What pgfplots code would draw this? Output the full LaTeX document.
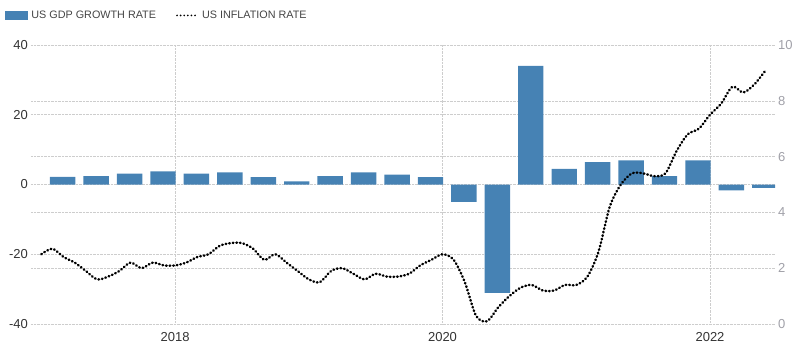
\documentclass[border=0pt]{standalone}
\usepackage{pgfplots}
\pgfplotsset{compat=1.18}
\usepackage{fontspec}
\setmainfont{Liberation Sans}
\definecolor{barblue}{HTML}{4682B4}
\definecolor{gridgray}{HTML}{CDCDCD}
\definecolor{lefttick}{HTML}{333333}
\definecolor{righttick}{HTML}{A0A0A8}
\definecolor{legtext}{HTML}{444444}

\begin{document}
\begin{tikzpicture}[x=1pt,y=1pt]
\useasboundingbox (0,0) rectangle (800,354);
\pgfplotsset{
  base/.style={
    scale only axis, width=744pt, height=279pt,
    at={(31pt,30pt)}, anchor=south west,
    axis line style={draw=none},
    major tick length=0pt,
    /pgf/number format/assume math mode=true,
    /pgf/number format/1000 sep={},
    grid style={gridgray, densely dotted, line width=0.55pt},
  }
}
% right-scale grid and labels
\begin{axis}[base,
  xmin=-0.924, xmax=65.83, ymin=0, ymax=10,
  ytick={0,2,4,6,8,10}, xtick=\empty,
  ymajorgrids,
  yticklabel pos=right,
  yticklabel style={font=\fontsize{13}{15}\selectfont, text=righttick, inner sep=0pt, anchor=west, xshift=3pt},
]
\end{axis}
% GDP bars on left scale
\begin{axis}[base,
  xmin=2016.923, xmax=2022.486, ymin=-40, ymax=40,
  ytick={-40,-20,0,20,40},
  xtick={2018,2020,2022},
  xmajorgrids, ymajorgrids,
  yticklabel style={font=\fontsize{13}{15}\selectfont, text=lefttick, inner sep=0pt, anchor=east, xshift=-3pt},
  xticklabel style={font=\fontsize{13}{15}\selectfont, text=lefttick, inner sep=0pt, anchor=north, yshift=-8.5pt},
]
\addplot[ybar, fill=barblue, draw=none, bar width=0.19] coordinates {
(2017.16,2.2) (2017.41,2.4) (2017.66,3.1) (2017.91,3.8)
(2018.16,3.1) (2018.41,3.5) (2018.66,2.1) (2018.91,0.9)
(2019.16,2.4) (2019.41,3.5) (2019.66,2.8) (2019.91,2.1)
(2020.16,-5.0) (2020.41,-31.1) (2020.66,34.0) (2020.91,4.5)
(2021.16,6.4) (2021.41,6.9) (2021.66,2.4) (2021.91,6.9)
(2022.16,-1.7) (2022.41,-1.0)
};
\end{axis}
% inflation line on right scale (x = months since Jan 2017)
\begin{axis}[base,
  xmin=-0.924, xmax=65.83, ymin=0, ymax=10,
  xtick=\empty, ytick=\empty,
  legend columns=2,
  legend style={at={(-0.0349,1.13)}, anchor=north west, draw=none, fill=none,
    inner sep=0pt, font=\fontsize{10.8}{12}\selectfont, text=legtext,
    /tikz/every even column/.append style={column sep=18pt}},
]
\addlegendimage{legend image code/.code={\fill[barblue] (0pt,-4pt) rectangle (22pt,4pt); \path[draw=none,fill=none] (0pt,0pt) -- (24pt,0pt);}}
\addlegendentry{US GDP GROWTH RATE}
\addplot[black, line width=2.5pt, line cap=round, dash pattern=on 0.6pt off 3pt, smooth,
  legend image code/.code={\draw[black, line width=1.9pt, line cap=round, dash pattern=on 0pt off 3.6pt] (1pt,0pt) -- (21pt,0pt); \path[draw=none,fill=none] (0pt,0pt) -- (24pt,0pt);}]
coordinates {
(0,2.5) (1,2.7) (2,2.4) (3,2.2) (4,1.9) (5,1.6) (6,1.7) (7,1.9) (8,2.2) (9,2.0) (10,2.2) (11,2.1)
(12,2.1) (13,2.2) (14,2.4) (15,2.5) (16,2.8) (17,2.9) (18,2.9) (19,2.7) (20,2.3) (21,2.5) (22,2.2) (23,1.9)
(24,1.6) (25,1.5) (26,1.9) (27,2.0) (28,1.8) (29,1.6) (30,1.8) (31,1.7) (32,1.7) (33,1.8) (34,2.1) (35,2.3)
(36,2.5) (37,2.3) (38,1.5) (39,0.3) (40,0.1) (41,0.6) (42,1.0) (43,1.3) (44,1.4) (45,1.2) (46,1.2) (47,1.4)
(48,1.4) (49,1.7) (50,2.6) (51,4.2) (52,5.0) (53,5.4) (54,5.4) (55,5.3) (56,5.4) (57,6.2) (58,6.8) (59,7.0)
(60,7.5) (61,7.9) (62,8.5) (63,8.3) (64,8.6) (65,9.1)
};
\addlegendentry{US INFLATION RATE}
\end{axis}
\end{tikzpicture}
\end{document}
